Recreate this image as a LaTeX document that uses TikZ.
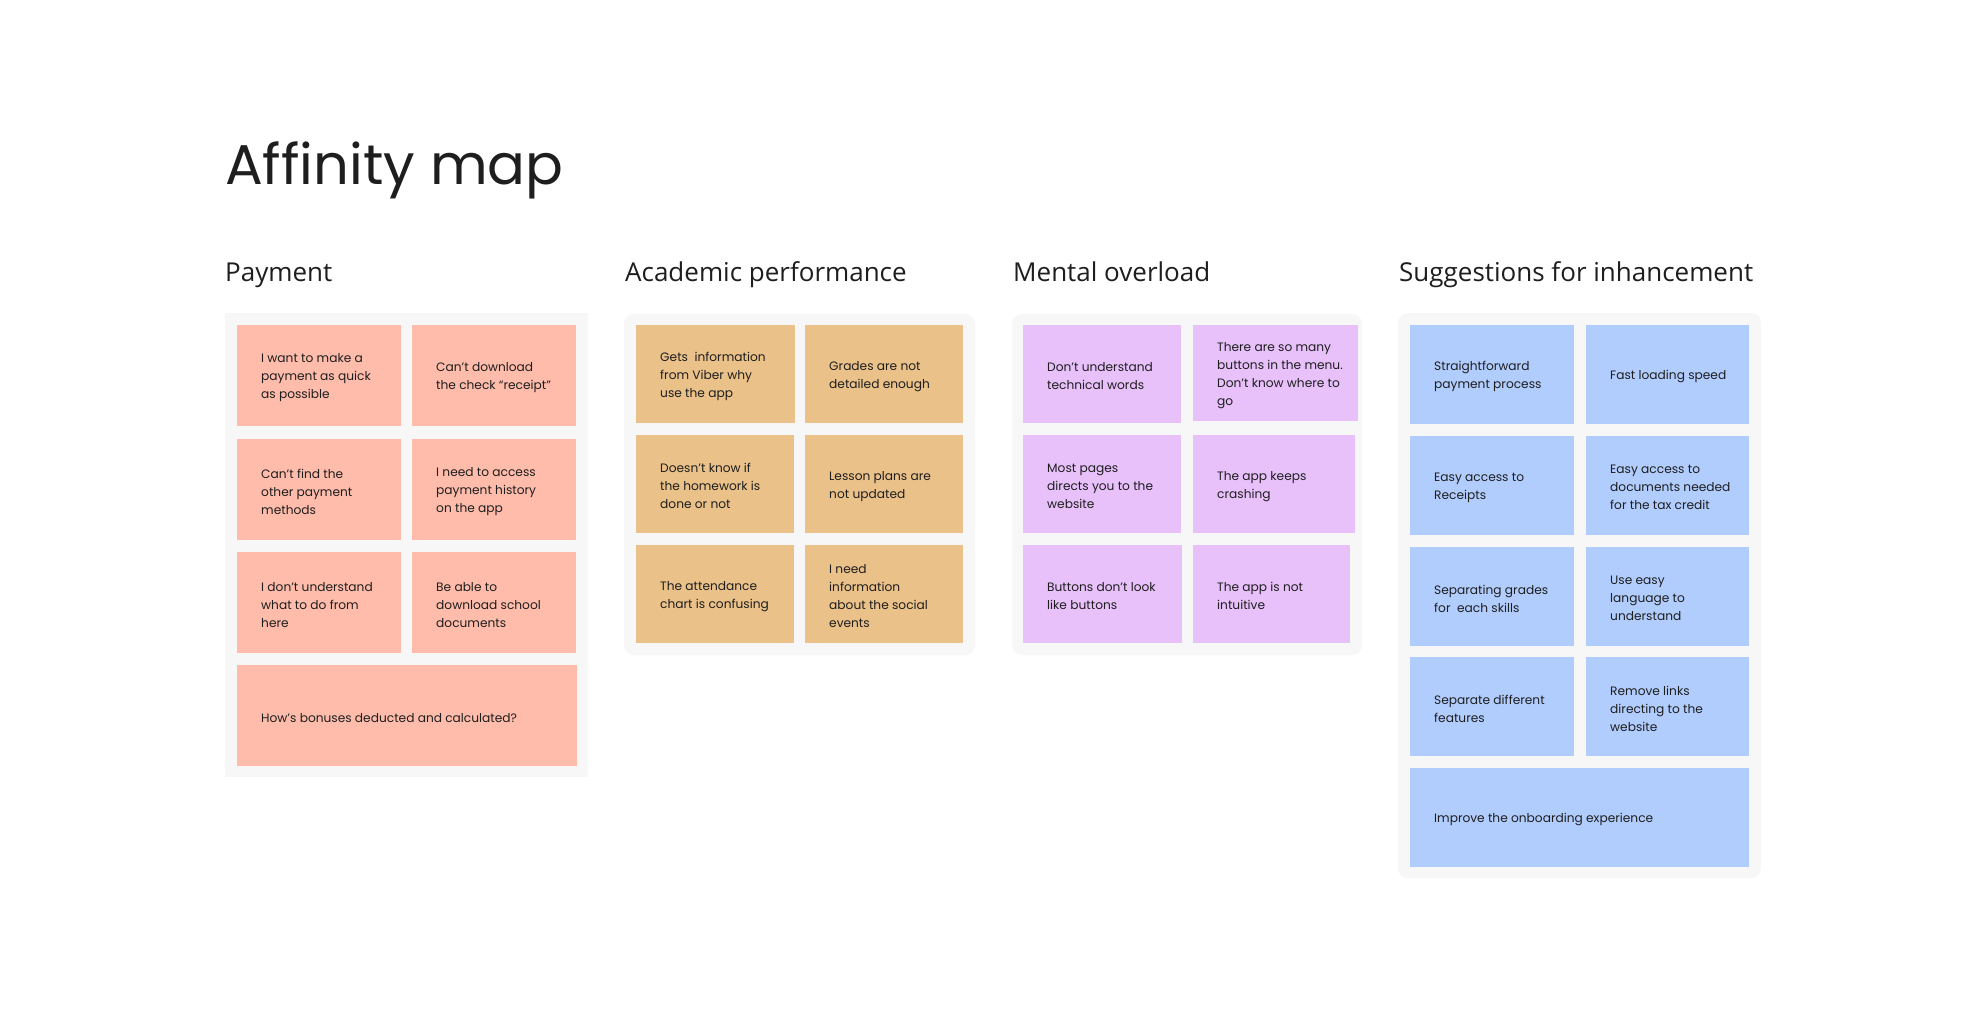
\documentclass[tikz,border=0pt]{standalone}
\usepackage{fontspec}
\setmainfont{Poppins}
\newfontfamily\headfont{Open Sans}
\usetikzlibrary{positioning}

\definecolor{panelgray}{HTML}{F7F7F7}
\definecolor{paysalmon}{HTML}{FFBCAB}
\definecolor{acadsand}{HTML}{EAC189}
\definecolor{mentallilac}{HTML}{E8C1FB}
\definecolor{ideablue}{HTML}{B1CDFE}
\definecolor{ink}{HTML}{1E1E1E}

\tikzset{
  panel/.style={fill=panelgray, draw=none},
  card/.style={anchor=north west, inner sep=0pt, minimum width=164pt, minimum height=100pt},
  paycard/.style={card, fill=paysalmon, minimum height=101pt},
  acadcard/.style={card, fill=acadsand, minimum width=158pt, minimum height=98pt},
  mentalcard/.style={card, fill=mentallilac, minimum width=158pt, minimum height=98pt},
  ideacard/.style={card, fill=ideablue, minimum height=99pt},
  note/.style={align=left, inner sep=0pt, yshift=-2pt, text=ink, font=\fontsize{12.2}{18}\selectfont},
  heading/.style={anchor=base west, inner sep=0pt, text=ink, font=\headfont\fontsize{26}{31}\selectfont},
}

\begin{document}
\begin{tikzpicture}[x=1pt, y=-1pt]
		% Canvas
		\fill[white] (0,0) rectangle (1987,1029);
		\useasboundingbox (0,0) rectangle (1987,1029);
		
		% Title and headings
		\node[anchor=base west, inner sep=0pt, text=ink, font=\fontsize{56}{68}\selectfont] (maptitle) at (225,184) {Affinity map};
		\node[heading] (payhead) at (225,281) {Payment};
		\node[heading] (acadhead) at (625,281) {Academic performance};
		\node[heading] (mentalhead) at (1013,281) {Mental overload};
		\node[heading] (ideahead) at (1399,281) {Suggestions for inhancement};
		
		% Panels
		\fill[panel] (225,313) rectangle (588,777);
		\fill[panel, rounded corners=10pt] (624,314) rectangle (975,655);
		\fill[panel, rounded corners=10pt] (1012,314) rectangle (1362,655);
		\fill[panel, rounded corners=10pt] (1398,313) rectangle (1761,878);
		
		% Payment
		\node[paycard] (p1) at (237,325) {};
		\node[paycard] (p2) at (412,325) {};
		\node[paycard] (p3) at (237,439) {};
		\node[paycard] (p4) at (412,439) {};
		\node[paycard] (p5) at (237,552) {};
		\node[paycard] (p6) at (412,552) {};
		\node[paycard, minimum width=340pt] (p7) at (237,665) {};
		\node[note, right=24pt of p1.west] (p1t) {I want to make a\\payment as quick\\as possible};
		\node[note, right=24pt of p2.west] (p2t) {Can’t download\\the check “receipt”};
		\node[note, right=24pt of p3.west] (p3t) {Can’t find the\\other payment\\methods};
		\node[note, right=24pt of p4.west] (p4t) {I need to access\\payment history\\on the app};
		\node[note, right=24pt of p5.west] (p5t) {I don’t understand\\what to do from\\here};
		\node[note, right=24pt of p6.west] (p6t) {Be able to\\download school\\documents};
		\node[note, right=24pt of p7.west] (p7t) {How’s bonuses deducted and calculated?};
		
		% Academic performance
		\node[acadcard, minimum width=159pt] (a1) at (636,325) {};
		\node[acadcard] (a2) at (805,325) {};
		\node[acadcard] (a3) at (636,435) {};
		\node[acadcard] (a4) at (805,435) {};
		\node[acadcard] (a5) at (636,545) {};
		\node[acadcard] (a6) at (805,545) {};
		\node[note, right=24pt of a1.west] (a1t) {Gets~ information\\from Viber why\\use the app};
		\node[note, right=24pt of a2.west] (a2t) {Grades are not\\detailed enough};
		\node[note, right=24pt of a3.west] (a3t) {Doesn’t know if\\the homework is\\done or not};
		\node[note, right=24pt of a4.west] (a4t) {Lesson plans are\\not updated};
		\node[note, right=24pt of a5.west] (a5t) {The attendance\\chart is confusing};
		\node[note, right=24pt of a6.west] (a6t) {I need\\information\\about the social\\events};
		
		% Mental overload
		\node[mentalcard] (m1) at (1023,325) {};
		\node[mentalcard, minimum width=165pt, minimum height=96pt] (m2) at (1193,325) {};
		\node[mentalcard] (m3) at (1023,435) {};
		\node[mentalcard, minimum width=162pt] (m4) at (1193,435) {};
		\node[mentalcard, minimum width=159pt] (m5) at (1023,545) {};
		\node[mentalcard, minimum width=157pt] (m6) at (1193,545) {};
		\node[note, right=24pt of m1.west] (m1t) {Don’t understand\\technical words};
		\node[note, right=24pt of m2.west] (m2t) {There are so many\\buttons in the menu.\\Don’t know where to\\go};
		\node[note, right=24pt of m3.west] (m3t) {Most pages\\directs you to the\\website};
		\node[note, right=24pt of m4.west] (m4t) {The app keeps\\crashing};
		\node[note, right=24pt of m5.west] (m5t) {Buttons don’t look\\like buttons};
		\node[note, right=24pt of m6.west] (m6t) {The app is not\\intuitive};
		
		% Suggestions
		\node[ideacard] (s1) at (1410,325) {};
		\node[ideacard, minimum width=163pt] (s2) at (1586,325) {};
		\node[ideacard] (s3) at (1410,436) {};
		\node[ideacard, minimum width=163pt] (s4) at (1586,436) {};
		\node[ideacard] (s5) at (1410,547) {};
		\node[ideacard, minimum width=163pt] (s6) at (1586,547) {};
		\node[ideacard] (s7) at (1410,657) {};
		\node[ideacard, minimum width=163pt] (s8) at (1586,657) {};
		\node[ideacard, minimum width=339pt] (s9) at (1410,768) {};
		\node[note, right=24pt of s1.west] (s1t) {Straightforward\\payment process};
		\node[note, right=24pt of s2.west] (s2t) {Fast loading speed};
		\node[note, right=24pt of s3.west] (s3t) {Easy access to\\Receipts};
		\node[note, right=24pt of s4.west] (s4t) {Easy access to\\documents needed\\for the tax credit};
		\node[note, right=24pt of s5.west] (s5t) {Separating grades\\for~ each skills};
		\node[note, right=24pt of s6.west] (s6t) {Use easy\\language to\\understand};
		\node[note, right=24pt of s7.west] (s7t) {Separate different\\features};
		\node[note, right=24pt of s8.west] (s8t) {Remove links\\directing to the\\website};
		\node[note, right=24pt of s9.west] (s9t) {Improve the onboarding experience};
	\end{tikzpicture}
\end{document}
